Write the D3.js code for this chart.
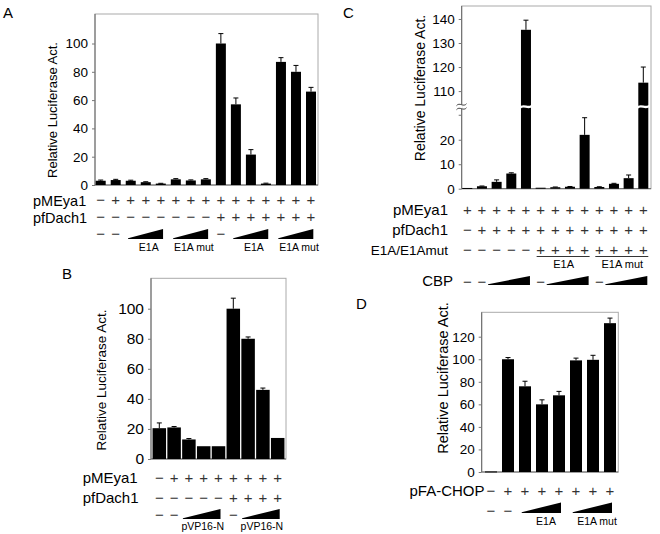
<!DOCTYPE html>
<html><head><meta charset="utf-8">
<script src="https://cdn.jsdelivr.net/npm/d3@7"></script>
<style>body{margin:0;background:#fff}svg{display:block;font-family:"Liberation Sans",Arial,sans-serif}</style>
</head><body>
<script>
// ---------- DATA ----------
// Panel A
const aValues = [3, 3.5, 3, 2, 1, 4, 3.2, 4, 100, 57, 21.5, 1, 87, 80, 66];
const aErrors = [0.5, 0.5, 0.4, 0.3, 0.2, 0.5, 0.4, 0.5, 7, 4.5, 3.5, 0.3, 3, 4.5, 3];
const aTicks = [0, 20, 40, 60, 80, 100];
const aPMEya1 = ["−","+","+","+","+","+","+","+","+","+","+","+","+","+","+"];
const aPfDach1 = ["−","−","−","−","−","−","−","−","+","+","+","+","+","+","+"];
const aDashes = [0, 1, 8];
const aWedges = [[2, 4], [5, 7], [9, 11], [12, 14]];
const aWedgeLabels = ["E1A", "E1A mut", "E1A", "E1A mut"];

// Panel B
const bValues = [20.5, 21, 13, 8.5, 8.5, 100, 80, 46, 14];
const bErrors = [3.5, 0.6, 0.6, 0, 0, 7, 1.2, 1.2, 0];
const bTicks = [0, 20, 40, 60, 80, 100];
const bPMEya1 = ["−","+","+","+","+","+","+","+","+"];
const bPfDach1 = ["−","−","−","−","−","+","+","+","+"];
const bDashes = [0, 1, 5];
const bWedges = [[2, 4], [6, 8]];
const bWedgeLabels = ["pVP16-N", "pVP16-N"];

// Panel C
const cValues = [0.3, 1, 2.8, 6.2, 135.5, 0.4, 0.6, 0.8, 22, 0.7, 2, 4.3, 113.5];
const cErrors = [0, 0.1, 0.8, 0.3, 4, 0, 0.1, 0.1, 7, 0.1, 0.2, 1.3, 6.5];
const cTicks = [0, 10, 20, 110, 120, 130, 140];
const cMinorTicks = [30];
const cPMEya1 = ["+","+","+","+","+","+","+","+","+","+","+","+","+"];
const cPfDach1 = ["−","+","+","+","+","+","+","+","+","+","+","+","+"];
const cE1A = ["−","−","−","−","−","+","+","+","+","+","+","+","+"];
const cGroups = [[5, 8], [9, 12]];
const cGroupLabels = ["E1A", "E1A mut"];
const cCBPDashes = [0, 1, 5, 9];
const cCBPWedges = [[2, 4], [6, 8], [10, 12]];
const cBreakLow = 33.5, cBreakHigh = 103.5;

// Panel D
const dValues = [0.5, 100, 76, 60, 68, 99, 99.5, 132];
const dErrors = [0, 1.5, 4.5, 4, 3.5, 2, 4, 4.5];
const dTicks = [0, 20, 40, 60, 80, 100, 120];
const dPFACHOP = ["−","+","+","+","+","+","+","+"];
const dDashes = [0, 1];
const dWedges = [[2, 4], [5, 7]];
const dWedgeLabels = ["E1A", "E1A mut"];

// ---------- DRAW ----------
const svg = d3.select("body").append("svg").attr("width", 660).attr("height", 534);
const title = "Relative Luciferase Act.";
const SYM = 15;

function panel(o) {
  const g = svg.append("g");
  const idx = o.values.map((d, i) => i);
  const x = d3.scalePoint().domain(idx).range(o.xr);
  const y = o.y;
  g.append("rect").attr("x", o.f[0]).attr("y", o.f[2]).attr("width", o.f[1] - o.f[0]).attr("height", o.f[3] - o.f[2])
    .attr("fill", "none").attr("stroke", "#aaa").attr("stroke-width", 1);
  g.append("line").attr("x1", o.f[0]).attr("x2", o.f[0]).attr("y1", o.f[2]).attr("y2", o.f[3]).attr("stroke", "#666");
  g.append("line").attr("x1", o.f[0]).attr("x2", o.f[1]).attr("y1", o.f[3]).attr("y2", o.f[3]).attr("stroke", "#666");
  const ax = g.append("g").attr("transform", `translate(${o.f[0]},0)`)
    .call(d3.axisLeft(y).tickValues(o.ticks).tickSize(3).tickPadding(4).tickFormat(d3.format("d")));
  ax.select(".domain").remove();
  ax.selectAll(".tick line").attr("stroke", "#777");
  ax.selectAll(".tick text").attr("fill", "#000").style("font-size", o.tickFont + "px").style("font-family", "Liberation Sans, Arial, sans-serif");
  if (o.minor) {
    g.selectAll(".mn").data(o.minor).join("line").attr("x1", o.f[0] - 3).attr("x2", o.f[0])
      .attr("y1", d => y(d)).attr("y2", d => y(d)).attr("stroke", "#777");
  }
  g.append("text").attr("transform", `translate(${o.title[0]},${o.title[1]}) rotate(-90)`)
    .attr("text-anchor", "middle").style("font-size", o.titleFont + "px").text(title);
  g.selectAll(".bar").data(o.values).join("rect")
    .attr("x", (d, i) => x(i) - o.bw / 2).attr("width", o.bw)
    .attr("y", d => y(d)).attr("height", d => Math.max(1, y(0) - y(d))).attr("fill", "#000");
  const eb = o.values.map((v, i) => ({ v, e: o.errors[i], i })).filter(d => d.e > 0);
  g.selectAll(".eb").data(eb).join("line").attr("x1", d => x(d.i)).attr("x2", d => x(d.i))
    .attr("y1", d => y(d.v)).attr("y2", d => y(d.v + d.e)).attr("stroke", "#000").attr("stroke-width", 1);
  g.selectAll(".ec").data(eb).join("line").attr("x1", d => x(d.i) - 2.5).attr("x2", d => x(d.i) + 2.5)
    .attr("y1", d => y(d.v + d.e)).attr("y2", d => y(d.v + d.e)).attr("stroke", "#000").attr("stroke-width", 1);
  return { g, x, y };
}

// row of +/− symbols centred vertically at cy
function rowSymbols(g, x, arr, cy) {
  g.selectAll(null).data(arr).join("text").attr("x", (d, i) => x(i)).attr("y", cy + 5)
    .attr("text-anchor", "middle").attr("fill", "#333").style("font-size", SYM + "px").text(d => d);
}
function label(g, txt, xx, yy, fs, anchor) {
  return g.append("text").attr("x", xx).attr("y", yy).attr("text-anchor", anchor || "start").style("font-size", fs + "px").text(txt);
}
function wedges(g, x, list, yTop, yBot, k1, k2) {
  g.selectAll(null).data(list).join("path")
    .attr("d", d => { const x0 = x(d[0]) - k1, x1 = x(d[1]) + k2; return `M${x0},${yBot - 0.8}L${x1},${yTop}L${x1},${yBot}L${x0},${yBot}Z`; })
    .attr("fill", "#000");
}
function dashes(g, x, list, cy) {
  g.selectAll(null).data(list).join("text").attr("x", d => x(d)).attr("y", cy + 5).attr("text-anchor", "middle")
    .attr("fill", "#333").style("font-size", SYM + "px").text("−");
}

// Panel A
{
  const y = d3.scaleLinear().domain([0, 100]).range([185, 43.5]);
  const p = panel({ values: aValues, errors: aErrors, xr: [100.7, 311], bw: 10, y, ticks: aTicks,
    f: [95, 318, 14, 185], tickFont: 13.5, title: [57, 110], titleFont: 13 });
  label(p.g, "A", 3, 18, 15);
  label(p.g, "pMEya1", 33, 205.5, 14.5); rowSymbols(p.g, p.x, aPMEya1, 200);
  label(p.g, "pfDach1", 33, 222.5, 14.5); rowSymbols(p.g, p.x, aPfDach1, 217);
  dashes(p.g, p.x, aDashes, 233.5);
  wedges(p.g, p.x, aWedges, 229, 239, 2.7, 2.3);
  p.g.selectAll(null).data(aWedges).join("text").attr("x", (d, i) => (p.x(d[0]) + p.x(d[1])) / 2 + 3).attr("y", 251)
    .attr("text-anchor", "middle").style("font-size", "10.5px").text((d, i) => aWedgeLabels[i]);
}
// Panel B
{
  const y = d3.scaleLinear().domain([0, 100]).range([459, 308.7]);
  const p = panel({ values: bValues, errors: bErrors, xr: [159.3, 277.7], bw: 13.5, y, ticks: bTicks,
    f: [151, 286, 278.3, 459], tickFont: 15.5, title: [106, 380], titleFont: 13.5 });
  label(p.g, "B", 62, 279, 15);
  label(p.g, "pMEya1", 82.7, 482.5, 15); rowSymbols(p.g, p.x, bPMEya1, 477.5);
  label(p.g, "pfDach1", 82.7, 503, 15); rowSymbols(p.g, p.x, bPfDach1, 498);
  dashes(p.g, p.x, bDashes, 515);
  wedges(p.g, p.x, bWedges, 509, 519, 6, 2);
  p.g.selectAll(null).data(bWedges).join("text").attr("x", (d, i) => (p.x(d[0]) + p.x(d[1])) / 2 - 1).attr("y", 530)
    .attr("text-anchor", "middle").style("font-size", "10.5px").text((d, i) => bWedgeLabels[i]);
}
// Panel C
{
  const y = d3.scaleLinear().domain([0, cBreakLow, cBreakHigh, 145.4]).range([188.7, 106.7, 106.7, 6]);
  const p = panel({ values: cValues, errors: cErrors, xr: [467.3, 643.3], bw: 10, y, ticks: cTicks, minor: cMinorTicks,
    f: [461.7, 651, 6, 188.7], tickFont: 13.5, title: [425, 88], titleFont: 14 });
  label(p.g, "C", 343, 18, 15);
  const by = y(cBreakLow);
  const wave = (x0, x1, yy) => { const w = x1 - x0; return `M${x0},${yy + 1}C${x0 + w * 0.3},${yy - 3} ${x0 + w * 0.7},${yy + 3} ${x1},${yy - 1}`; };
  const big = cValues.map((v, i) => ({ v, i })).filter(d => d.v > cBreakLow);
  p.g.selectAll(null).data(big).join("path").attr("d", d => wave(p.x(d.i) - 6, p.x(d.i) + 6, by))
    .attr("fill", "none").attr("stroke", "#fff").attr("stroke-width", 2.4);
  p.g.append("rect").attr("x", 461.7 - 1).attr("y", by - 2).attr("width", 2).attr("height", 4).attr("fill", "#fff");
  p.g.append("path").attr("d", wave(456.5, 466.5, by - 2)).attr("fill", "none").attr("stroke", "#333").attr("stroke-width", 0.9);
  p.g.append("path").attr("d", wave(456.5, 466.5, by + 2)).attr("fill", "none").attr("stroke", "#333").attr("stroke-width", 0.9);
  label(p.g, "pMEya1", 448, 215, 15, "end"); rowSymbols(p.g, p.x, cPMEya1, 210);
  label(p.g, "pfDach1", 448, 235, 15, "end"); rowSymbols(p.g, p.x, cPfDach1, 230);
  label(p.g, "E1A/E1Amut", 448, 254.5, 13.5, "end"); rowSymbols(p.g, p.x, cE1A, 249.5);
  p.g.selectAll(null).data(cGroups).join("line").attr("x1", d => p.x(d[0]) - 4).attr("x2", d => p.x(d[1]) + 5)
    .attr("y1", 256.5).attr("y2", 256.5).attr("stroke", "#000").attr("stroke-width", 0.8);
  p.g.selectAll(null).data(cGroups).join("text").attr("x", d => (p.x(d[0]) + p.x(d[1])) / 2 + 1).attr("y", 267.5)
    .attr("text-anchor", "middle").style("font-size", "11px").text((d, i) => cGroupLabels[i]);
  label(p.g, "CBP", 453, 286, 15, "end");
  dashes(p.g, p.x, cCBPDashes, 281.5);
  wedges(p.g, p.x, cCBPWedges, 276, 285, 8.6, 4);
}
// Panel D
{
  const y = d3.scaleLinear().domain([0, 120]).range([472, 336.7]);
  const p = panel({ values: dValues, errors: dErrors, xr: [491, 610], bw: 12, y, ticks: dTicks,
    f: [481.7, 618.3, 312.3, 472], tickFont: 13.5, title: [448, 378], titleFont: 14.5 });
  label(p.g, "D", 356, 309, 15);
  label(p.g, "pFA-CHOP", 484.5, 496, 15, "end"); rowSymbols(p.g, p.x, dPFACHOP, 490.7);
  dashes(p.g, p.x, dDashes, 511);
  wedges(p.g, p.x, dWedges, 502.5, 513, 3.3, 2);
  p.g.selectAll(null).data(dWedges).join("text").attr("x", (d, i) => (p.x(d[0]) + p.x(d[1])) / 2 + 4).attr("y", 525)
    .attr("text-anchor", "middle").style("font-size", "10.5px").text((d, i) => dWedgeLabels[i]);
}
</script>
</body></html>
